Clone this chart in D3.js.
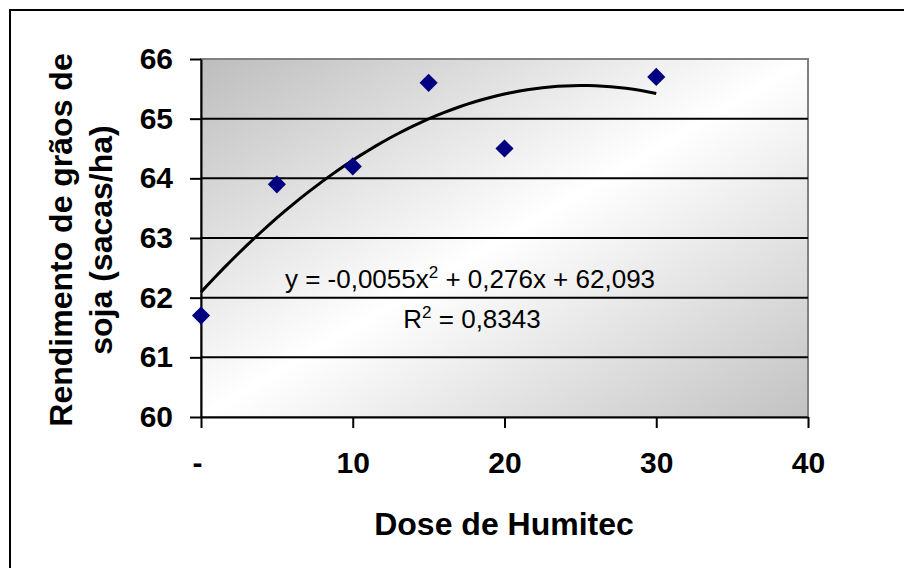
<!DOCTYPE html>
<html>
<head>
<meta charset="utf-8">
<script src="https://cdn.jsdelivr.net/npm/d3@7"></script>
<style>
  body { margin: 0; background: #fff; }
  text { font-family: "Liberation Sans", Arial, sans-serif; }
</style>
</head>
<body>
<svg id="graph" width="904" height="568"></svg>
<script>
// data
const doses = [0, 5, 10, 15, 20, 30]
const rendimento = [61.7, 63.9, 64.2, 65.6, 64.5, 65.7]
const xTicks = [0, 10, 20, 30, 40]
const yTicks = [60, 61, 62, 63, 64, 65, 66]
// trendline coefficients as printed on the chart (a x^2 + b x + c)
const coef = [-0.0055, 0.276, 62.093]
const eqText = 'y = -0,0055x'
const eqRest = ' + 0,276x + 62,093'
const r2Text = ' = 0,8343'

const svg = d3.select('#graph')

const x = d3.scaleLinear().domain([0, 40]).range([201, 808])
const y = d3.scaleLinear().domain([60, 66]).range([417, 59])

// outer chart border (runs off the right / bottom edge)
svg.append('rect')
  .attr('x', 10).attr('y', 10)
  .attr('width', 1000).attr('height', 1000)
  .attr('fill', '#fff')
  .attr('stroke', '#000').attr('stroke-width', 2)

// plot background gradient
const defs = svg.append('defs')
const grad = defs.append('linearGradient')
  .attr('id', 'bg')
  .attr('x1', 0).attr('y1', 0).attr('x2', 1).attr('y2', 1)
grad.append('stop').attr('offset', 0).attr('stop-color', '#bdbdbd')
grad.append('stop').attr('offset', 0.5).attr('stop-color', '#ffffff')
grad.append('stop').attr('offset', 1).attr('stop-color', '#c2c2c2')

svg.append('rect')
  .attr('x', x(0)).attr('y', y(66))
  .attr('width', x(40) - x(0)).attr('height', y(60) - y(66))
  .attr('fill', 'url(#bg)')
  .attr('stroke', '#808080').attr('stroke-width', 2)

// grid lines
svg.append('g')
  .selectAll('line').data(yTicks.filter(d => d > 60 && d < 66))
  .enter().append('line')
    .attr('x1', x(0)).attr('x2', x(40))
    .attr('y1', d => y(d)).attr('y2', d => y(d))
    .attr('stroke', '#000').attr('stroke-width', 2)

// axes
const yAxis = svg.append('g')
  .attr('transform', `translate(${x(0)},0)`)
  .call(d3.axisLeft(y).tickValues(yTicks).tickSize(11).tickSizeOuter(0).tickPadding(17)
    .tickFormat(d3.format('d')))
const xAxis = svg.append('g')
  .attr('transform', `translate(0,${y(60)})`)
  .call(d3.axisBottom(x).tickValues(xTicks).tickSize(11).tickSizeOuter(0).tickPadding(24)
    .tickFormat(d => d === 0 ? '-' : d))

for (const ax of [yAxis, xAxis]) {
  ax.select('.domain').attr('stroke', '#000').attr('stroke-width', 2)
  ax.selectAll('.tick line').attr('stroke', '#000').attr('stroke-width', 2)
  ax.selectAll('.tick text')
    .attr('fill', '#000')
    .style('font-family', '"Liberation Sans", Arial, sans-serif')
    .style('font-size', '30px')
    .style('font-weight', 'bold')
}
xAxis.selectAll('.tick text').filter(d => d === 0).attr('dx', -4)

// trend line
const trendX = d3.range(0, 30.01, 0.5)
const line = d3.line()
  .x(d => x(d))
  .y(d => y(coef[0] * d * d + coef[1] * d + coef[2]))
svg.append('path')
  .datum(trendX)
  .attr('d', line)
  .attr('fill', 'none')
  .attr('stroke', '#000')
  .attr('stroke-width', 3)

// points
svg.append('g')
  .selectAll('path').data(doses)
  .enter().append('path')
    .attr('transform', (d, i) => `translate(${x(d)},${y(rendimento[i])})`)
    .attr('d', d3.symbol().type(d3.symbolDiamond2).size(210))
    .attr('fill', '#000080')

// equation
const eq = svg.append('text')
  .attr('x', 470).attr('y', 288)
  .attr('text-anchor', 'middle')
  .style('font-size', '26px')
eq.append('tspan').text(eqText)
eq.append('tspan').attr('dy', -10).style('font-size', '17px').text('2')
eq.append('tspan').attr('dy', 10).text(eqRest)

const r2 = svg.append('text')
  .attr('x', 472).attr('y', 328)
  .attr('text-anchor', 'middle')
  .style('font-size', '26px')
r2.append('tspan').text('R')
r2.append('tspan').attr('dy', -10).style('font-size', '17px').text('2')
r2.append('tspan').attr('dy', 10).text(r2Text)

// axis titles
svg.append('text')
  .attr('x', 504).attr('y', 535)
  .attr('text-anchor', 'middle')
  .style('font-size', '32px').style('font-weight', 'bold')
  .text('Dose de Humitec')

const yt = svg.append('text')
  .attr('transform', 'translate(72,240) rotate(-90)')
  .attr('text-anchor', 'middle')
  .style('font-size', '32px').style('font-weight', 'bold')
yt.append('tspan').attr('x', 0).attr('y', 0).text('Rendimento de grãos de')
yt.append('tspan').attr('x', 0).attr('y', 40).text('soja (sacas/ha)')
</script>
</body>
</html>
